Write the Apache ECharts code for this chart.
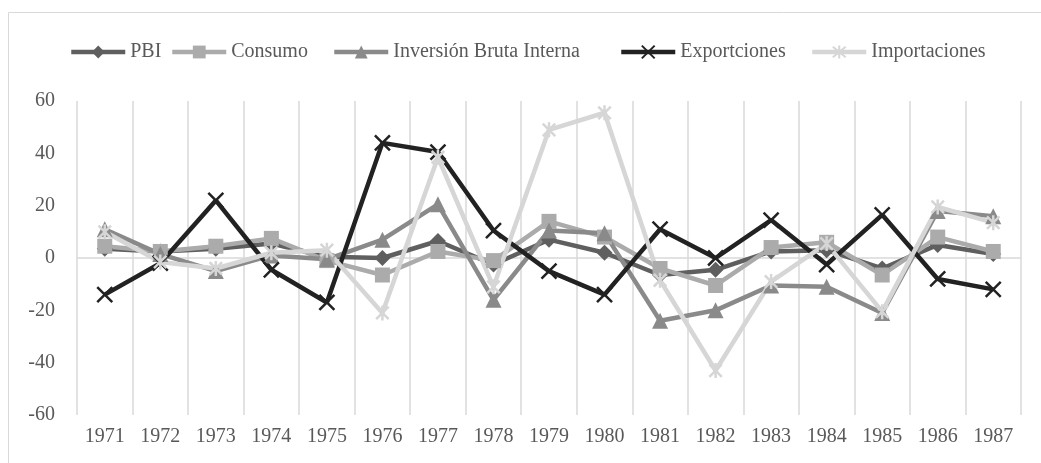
<!DOCTYPE html>
<html>
<head>
<meta charset="utf-8">
<script src="https://cdn.jsdelivr.net/npm/echarts@6/dist/echarts.min.js"></script>
<style>
  html, body { margin: 0; padding: 0; background: #fff; }
  #chart { width: 1041px; height: 463px; }
</style>
</head>
<body>
<div id="chart"></div>
<script>
// datos (tasas de variación, %)
const years = ['1971', '1972', '1973', '1974', '1975', '1976', '1977', '1978', '1979',
               '1980', '1981', '1982', '1983', '1984', '1985', '1986', '1987'];
const pbi           = [3.5, 2.5, 3.5, 5.5, 0.5, 0, 6.5, -2.5, 7, 2, -6.5, -4.5, 2.5, 3, -4, 5, 1.5];
const consumo       = [4.5, 2.5, 4.5, 7.5, -1, -6.5, 2.5, -1, 14, 8, -4, -10.5, 4, 6, -6.5, 8, 2.5];
const inversion     = [11, 1.5, -5, 1, -0.5, 7, 20.5, -16, 10.5, 9.5, -24, -20, -10.5, -11, -21, 18, 16];
const exportaciones = [-14, -2, 22, -4.5, -17, 44, 40.5, 10.5, -5, -14, 11, 0, 14.5, -2.5, 16.5, -8, -12];
const importaciones = [10, -1.5, -4, 2, 3, -21, 38.5, -11, 49, 55.5, -8.5, -43, -9, 5.5, -20.5, 19.5, 13.5];
const seriesNames = ['PBI', 'Consumo', 'Inversión Bruta Interna', 'Exportciones', 'Importaciones'];
const yTicks = { min: -60, max: 60, interval: 20 };

const FONT = '"Liberation Serif", "DejaVu Serif", serif';
const TXT = '#595959';
const GRID_C = '#d9d9d9';

const SYM_X = 'path://M0,0L10,10M10,0L0,10';
const SYM_STAR = 'path://M0,0L10,10M10,0L0,10M5,-1L5,11';

function mkSeries(name, data, color, symbol, size, stroke) {
  return {
    name,
    type: 'line',
    data,
    symbol,
    symbolSize: size,
    symbolKeepAspect: true,
    showAllSymbol: true,
    lineStyle: { color, width: 4.5 },
    itemStyle: stroke
      ? { color: 'rgba(0,0,0,0)', borderColor: color, borderWidth: 2.5 }
      : { color, borderColor: color, borderWidth: 0 },
    emphasis: { disabled: true },
    animation: false,
  };
}

// una leyenda por serie para ubicar cada entrada como en el original
const legendLeft = [69, 170, 332, 619, 810];
const legends = seriesNames.map((n, i) => ({
  top: 42,
  left: legendLeft[i],
  padding: 0,
  itemWidth: 54,
  itemHeight: 16,
  lineStyle: { width: 4.5 },
  textStyle: { fontFamily: FONT, fontSize: 20, color: TXT },
  data: [n],
}));

const chart = echarts.init(document.getElementById('chart'));
chart.setOption({
  animation: false,
  textStyle: { fontFamily: FONT },
  graphic: [{
    type: 'rect',
    shape: { x: 8.5, y: 12.5, width: 1100, height: 500 },
    style: { fill: 'none', stroke: GRID_C, lineWidth: 1 },
    silent: true,
    z: -10,
  }],
  legend: legends,
  grid: { left: 77, right: 20, top: 101, bottom: 48 },
  xAxis: {
    type: 'category',
    data: years,
    boundaryGap: true,
    axisLine: { show: false, onZero: false },
    axisTick: { show: false },
    axisLabel: { fontFamily: FONT, fontSize: 20, color: TXT, margin: 12, interval: 0 },
    splitLine: { show: true, lineStyle: { color: GRID_C, width: 1.5 } },
  },
  yAxis: {
    type: 'value',
    min: yTicks.min,
    max: yTicks.max,
    interval: yTicks.interval,
    axisLine: { show: false },
    axisTick: { show: false },
    axisLabel: { fontFamily: FONT, fontSize: 20, color: TXT, margin: 22 },
    splitLine: {
      show: true,
      lineStyle: {
        width: 1.5,
        color: ['rgba(0,0,0,0)', 'rgba(0,0,0,0)', 'rgba(0,0,0,0)', GRID_C,
                'rgba(0,0,0,0)', 'rgba(0,0,0,0)', 'rgba(0,0,0,0)'],
      },
    },
  },
  series: [
    mkSeries(seriesNames[0], pbi, '#5f5f5f', 'diamond', 16),
    mkSeries(seriesNames[1], consumo, '#ababab', 'rect', 15),
    mkSeries(seriesNames[2], inversion, '#8a8a8a', 'triangle', 16),
    mkSeries(seriesNames[3], exportaciones, '#222222', SYM_X, 15, true),
    mkSeries(seriesNames[4], importaciones, '#d6d6d6', SYM_STAR, 15, true),
  ],
});
</script>
</body>
</html>
